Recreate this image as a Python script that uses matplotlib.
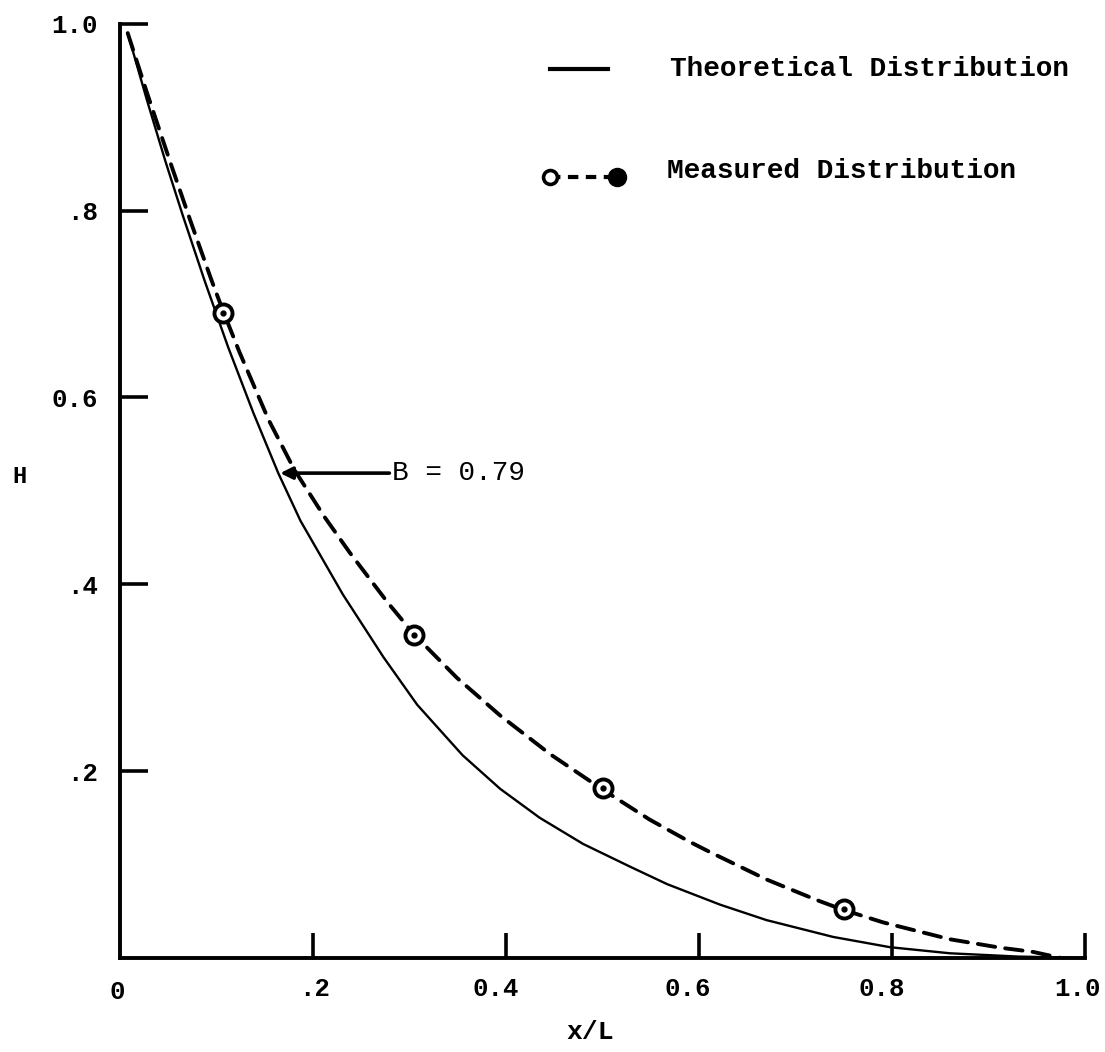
import matplotlib
matplotlib.use("Agg")
import matplotlib.pyplot as plt
from matplotlib.transforms import ScaledTranslation

# theoretical distribution (solid curve)
theory_x = [0.008, 0.028, 0.047, 0.065, 0.088, 0.112, 0.138, 0.164, 0.187, 0.231, 0.273,
            0.308, 0.355, 0.394, 0.435, 0.48, 0.529, 0.567, 0.622, 0.67, 0.739, 0.798,
            0.86, 0.93, 1.0]
theory_h = [0.99, 0.918, 0.853, 0.795, 0.724, 0.654, 0.584, 0.519, 0.468, 0.389, 0.322,
            0.271, 0.217, 0.181, 0.150, 0.122, 0.0975, 0.079, 0.057, 0.0405, 0.0225,
            0.0115, 0.005, 0.0015, 0.0]

# measured distribution (dashed curve drawn through the measured points)
meas_curve_x = [0.008, 0.028, 0.052, 0.073, 0.095, 0.107, 0.124, 0.154, 0.181, 0.212,
                0.238, 0.277, 0.305, 0.349, 0.394, 0.446, 0.499, 0.549, 0.591, 0.611,
                0.67, 0.722, 0.748, 0.791, 0.86, 0.912, 0.946, 0.975]
meas_curve_h = [0.99, 0.926, 0.852, 0.789, 0.725, 0.692, 0.648, 0.576, 0.522, 0.472,
                0.434, 0.381, 0.346, 0.300, 0.2595, 0.218, 0.181, 0.148, 0.124, 0.1135,
                0.084, 0.062, 0.052, 0.038, 0.020, 0.011, 0.0065, 0.0]
meas_x = [0.107, 0.305, 0.5, 0.75]
meas_h = [0.69, 0.346, 0.182, 0.052]

x_ticks = [0.2, 0.4, 0.6, 0.8, 1.0]
y_ticks = [0.2, 0.4, 0.6, 0.8, 1.0]
x_tick_labels = [".2", "0.4", "0.6", "0.8", "1.0"]
y_tick_labels = [".2", ".4", "0.6", ".8", "1.0"]
x_label_shift_px = [2, -10, -11, -10, -7]

b_point = (0.166, 0.519)
b_text_pos = (0.282, 0.519)
b_label = "B = 0.79"

FONT = "Liberation Mono"

fig = plt.figure(figsize=(11.05, 10.52), dpi=100)
ax = fig.add_axes([0.1086, 0.0894, 0.8733, 0.888])

ax.plot(theory_x, theory_h, color="black", lw=1.7, solid_joinstyle="round")
ax.plot(meas_curve_x, meas_curve_h, color="black", lw=2.8, linestyle=(0, (4.5, 2.6)),
        dash_capstyle="round", solid_joinstyle="round")
ax.plot(meas_x, meas_h, linestyle="none", marker="o", markersize=13,
        markerfacecolor="white", markeredgecolor="black", markeredgewidth=2.8, zorder=4)
ax.plot(meas_x, meas_h, linestyle="none", marker="o", markersize=3.5,
        color="black", zorder=5)

ax.annotate(b_label, xy=b_point, xytext=b_text_pos, va="center", ha="left",
            fontsize=20, family=FONT,
            arrowprops=dict(arrowstyle="-|>", lw=2.6, color="black",
                            shrinkA=0, shrinkB=0, mutation_scale=18))

ax.set_xlim(0, 1.0)
ax.set_ylim(0, 1.0)
for side in ["top", "right"]:
    ax.spines[side].set_visible(False)
for side in ["left", "bottom"]:
    ax.spines[side].set_linewidth(2.8)

ax.set_xticks(x_ticks)
ax.set_xticklabels(x_tick_labels)
ax.set_yticks(y_ticks)
ax.set_yticklabels(y_tick_labels)
ax.tick_params(direction="in", length=18, width=2.6, labelsize=18.5, pad=14)
ax.tick_params(axis="y", length=20, pad=16)
for lab, dx in zip(ax.get_xticklabels(), x_label_shift_px):
    lab.set_family(FONT)
    lab.set_fontweight("bold")
    lab.set_transform(lab.get_transform() + ScaledTranslation(dx / 100, 0, fig.dpi_scale_trans))
for lab in ax.get_yticklabels():
    lab.set_family(FONT)
    lab.set_fontweight("bold")

# origin label
ax.text(-0.003, -0.036, "0", transform=ax.transAxes, ha="center", va="center",
        fontsize=18.5, family=FONT, fontweight="bold")
ax.text(-0.104, 0.515, "H", transform=ax.transAxes, ha="center", va="center",
        fontsize=17, family=FONT, fontweight="bold")
ax.text(0.487, -0.079, "x/L", transform=ax.transAxes, ha="center", va="center",
        fontsize=19, family=FONT, fontweight="bold")

# hand-drawn legend
ax.plot([0.446, 0.506], [0.952, 0.952], transform=ax.transAxes, color="black",
        lw=3, clip_on=False)
ax.text(0.570, 0.952, "Theoretical Distribution", transform=ax.transAxes,
        ha="left", va="center", fontsize=20, family=FONT, fontweight="bold")
ax.plot([0.446, 0.515], [0.836, 0.836], transform=ax.transAxes, color="black",
        lw=3, linestyle=(0, (2.5, 1.8)), clip_on=False)
ax.plot([0.446], [0.836], transform=ax.transAxes, marker="o", markersize=10,
        markerfacecolor="white", markeredgecolor="black", markeredgewidth=2.6,
        clip_on=False)
ax.plot([0.515], [0.836], transform=ax.transAxes, marker="o", markersize=13,
        color="black", clip_on=False)
ax.text(0.567, 0.842, "Measured Distribution", transform=ax.transAxes,
        ha="left", va="center", fontsize=20, family=FONT, fontweight="bold")

fig.savefig("out.png", dpi=100, facecolor="white")
